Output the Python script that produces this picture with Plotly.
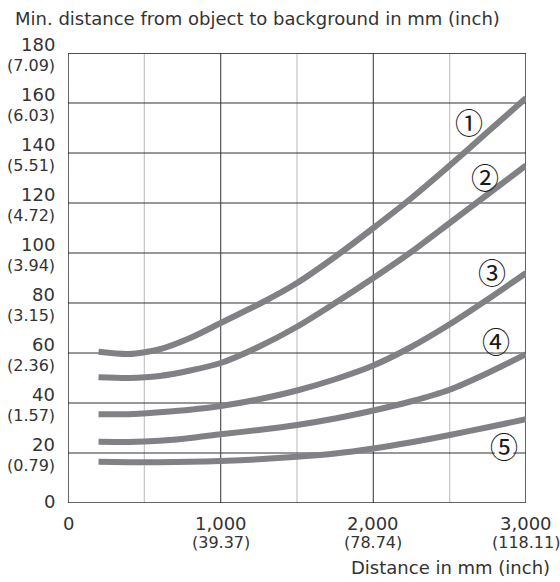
import plotly.graph_objects as go

distance_mm = [200, 400, 600, 800, 1000, 1250, 1500, 1750, 2000, 2250, 2500, 2750, 3000]
curve_1 = [60.5, 59.6, 61.5, 66, 72, 79.5, 88, 98.5, 110, 122, 135, 148.5, 162]
curve_2 = [50.3, 50, 50.8, 53, 56, 62.5, 70.5, 80, 90, 100.5, 112, 123.5, 135]
curve_3 = [35.5, 35.5, 36.3, 37.3, 38.8, 41.5, 45, 49.5, 55, 62.5, 71.5, 81.5, 92]
curve_4 = [24.5, 24.4, 24.9, 26, 27.5, 29.2, 31.2, 33.8, 37, 40.7, 45.3, 52, 59.5]
curve_5 = [16.5, 16.3, 16.3, 16.5, 16.8, 17.5, 18.5, 19.8, 21.8, 24.3, 27.2, 30.3, 33.5]
curve_labels = ["①", "②", "③", "④", "⑤"]
label_x = [2627, 2731, 2775, 2803, 2856]
label_y = [152.5, 130.5, 92.5, 65, 22.8]

y_ticks = [0, 20, 40, 60, 80, 100, 120, 140, 160, 180]
y_inch = ["", "(0.79)", "(1.57)", "(2.36)", "(3.15)", "(3.94)", "(4.72)", "(5.51)", "(6.03)", "(7.09)"]
x_ticks = [0, 1000, 2000, 3000]
x_main = ["0", "1,000", "2,000", "3,000"]
x_inch = ["", "(39.37)", "(78.74)", "(118.11)"]
x_minor = [500, 1500, 2500]

y_title = "Min. distance from object to background in mm (inch)"
x_title = "Distance in mm (inch)"

FONT = "DejaVu Sans, Liberation Sans, sans-serif"
TXT = "#333333"
LINE = "#808184"

W, H = 560, 582
L, R, T, B = 68, 34, 53, 79
pw, ph = W - L - R, H - T - B

fig = go.Figure()
for ys in [curve_1, curve_2, curve_3, curve_4, curve_5]:
    fig.add_trace(go.Scatter(x=distance_mm, y=ys, mode="lines",
                             line=dict(color=LINE, width=6, shape="spline", smoothing=0.7),
                             hoverinfo="skip", showlegend=False))

shapes = []
for xv in x_minor:
    shapes.append(dict(type="line", xref="x", yref="y", x0=xv, x1=xv, y0=0, y1=180,
                       line=dict(color="#c4c4c4", width=1.2), layer="below"))
for xv in [1000, 2000]:
    shapes.append(dict(type="line", xref="x", yref="y", x0=xv, x1=xv, y0=0, y1=180,
                       line=dict(color="#555555", width=1.2), layer="below"))
for yv in y_ticks[1:]:
    shapes.append(dict(type="line", xref="x", yref="y", x0=0, x1=3000, y0=yv, y1=yv,
                       line=dict(color="#333333", width=1.2), layer="below"))
shapes.append(dict(type="rect", xref="x", yref="y", x0=0, x1=3000, y0=0, y1=180,
                   line=dict(color="#333333", width=1.5), layer="below"))
# white discs behind the circled labels so gridlines stop at the circle
for xv, yv in zip(label_x, label_y):
    shapes.append(dict(type="circle", xref="x", yref="y", xsizemode="pixel", ysizemode="pixel",
                       xanchor=xv, yanchor=yv, x0=-11, x1=11, y0=-12, y1=10,
                       fillcolor="white", line=dict(width=0), layer="below"))

annotations = []
for t, xv, yv in zip(curve_labels, label_x, label_y):
    annotations.append(dict(x=xv, y=yv, xref="x", yref="y", text=t, showarrow=False,
                            font=dict(size=28, color="#1a1a1a", family="Noto Sans CJK JP")))

# y tick labels (value above gridline, inch value below)
for yv, inch in zip(y_ticks, y_inch):
    if inch:
        annotations.append(dict(x=0, y=yv, xref="paper", yref="y", text=str(yv), showarrow=False,
                                xanchor="right", yanchor="middle", xshift=-11, yshift=9,
                                font=dict(size=18, color=TXT, family=FONT)))
        annotations.append(dict(x=0, y=yv, xref="paper", yref="y", text=inch, showarrow=False,
                                xanchor="right", yanchor="middle", xshift=-11, yshift=-12,
                                font=dict(size=16, color=TXT, family=FONT)))
    else:
        annotations.append(dict(x=0, y=yv, xref="paper", yref="y", text=str(yv), showarrow=False,
                                xanchor="right", yanchor="middle", xshift=-11, yshift=2,
                                font=dict(size=18, color=TXT, family=FONT)))

# x tick labels
for xv, main, inch in zip(x_ticks, x_main, x_inch):
    annotations.append(dict(x=xv, y=0, xref="x", yref="paper", text=main, showarrow=False,
                            xanchor="center", yanchor="middle", yshift=-20,
                            font=dict(size=18, color=TXT, family=FONT)))
    if inch:
        annotations.append(dict(x=xv, y=0, xref="x", yref="paper", text=inch, showarrow=False,
                                xanchor="center", yanchor="middle", yshift=-39,
                                font=dict(size=16, color=TXT, family=FONT)))

annotations.append(dict(x=(13 - L) / pw, y=(H - B - 18) / ph, xref="paper", yref="paper",
                        text=y_title, showarrow=False, xanchor="left", yanchor="middle",
                        font=dict(size=18, color=TXT, family=FONT)))
annotations.append(dict(x=(552 - L) / pw, y=(H - B - 567) / ph, xref="paper", yref="paper",
                        text=x_title, showarrow=False, xanchor="right", yanchor="middle",
                        font=dict(size=18, color=TXT, family=FONT)))

fig.update_layout(
    width=W, height=H,
    margin=dict(l=L, r=R, t=T, b=B, autoexpand=False),
    paper_bgcolor="white", plot_bgcolor="white",
    font=dict(family=FONT, color=TXT, size=18),
    shapes=shapes, annotations=annotations,
    xaxis=dict(range=[0, 3000], showgrid=False, zeroline=False, showline=False,
               showticklabels=False, ticks="", fixedrange=True, automargin=False),
    yaxis=dict(range=[0, 180], showgrid=False, zeroline=False, showline=False,
               showticklabels=False, ticks="", fixedrange=True, automargin=False),
)

fig.write_html("out.html", config={"displayModeBar": False},
               post_script="document.body.style.margin='0px';")
